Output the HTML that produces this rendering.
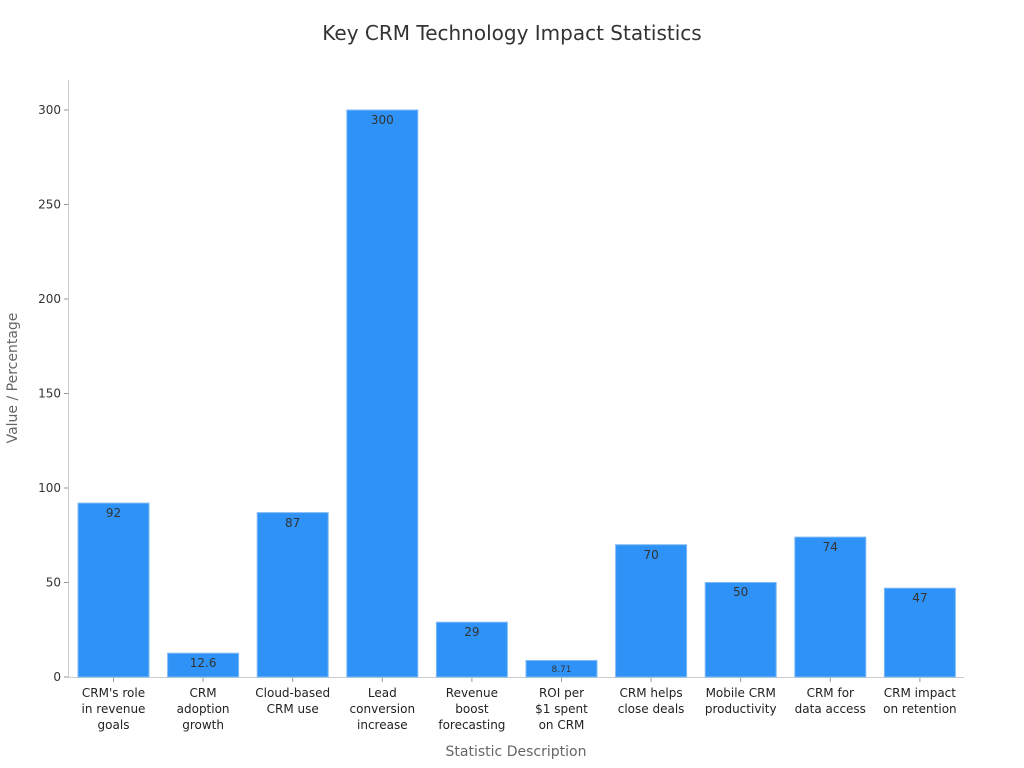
<!DOCTYPE html>
<html><head><meta charset="utf-8"><style>
html,body{margin:0;padding:0;background:#fff;}
svg{display:block;font-family:"DejaVu Sans","Liberation Sans",sans-serif;}
</style></head><body>
<svg width="1024" height="768" viewBox="0 0 1024 768" xmlns="http://www.w3.org/2000/svg">
<rect width="1024" height="768" fill="#fff"/>
<text x="512" y="40" text-anchor="middle" font-size="20" fill="#333">Key CRM Technology Impact Statistics</text>
<line x1="68.5" y1="80" x2="68.5" y2="677.5" stroke="#ccc" stroke-width="1"/>
<line x1="68.5" y1="677.5" x2="964" y2="677.5" stroke="#ccc" stroke-width="1"/>
<g font-size="12" fill="#333" text-anchor="end">
<line x1="64" x2="68.5" y1="677" y2="677" stroke="#999"/><text x="61" y="681">0</text>
<line x1="64" x2="68.5" y1="582.5" y2="582.5" stroke="#999"/><text x="61" y="586.5">50</text>
<line x1="64" x2="68.5" y1="488" y2="488" stroke="#999"/><text x="61" y="492">100</text>
<line x1="64" x2="68.5" y1="393.5" y2="393.5" stroke="#999"/><text x="61" y="397.5">150</text>
<line x1="64" x2="68.5" y1="299" y2="299" stroke="#999"/><text x="61" y="303">200</text>
<line x1="64" x2="68.5" y1="204.5" y2="204.5" stroke="#999"/><text x="61" y="208.5">250</text>
<line x1="64" x2="68.5" y1="110" y2="110" stroke="#999"/><text x="61" y="114">300</text>
</g>
<text transform="translate(17,378) rotate(-90)" text-anchor="middle" font-size="14" fill="#666">Value / Percentage</text>
<text x="516" y="756" text-anchor="middle" font-size="14" fill="#666">Statistic Description</text>
<g fill="#2f92f7" stroke="#7fbaf5" stroke-width="1">
<rect x="78" y="503.1" width="71" height="173.9"/>
<rect x="167.6" y="653.2" width="71" height="23.8"/>
<rect x="257.2" y="512.6" width="71" height="164.4"/>
<rect x="346.8" y="110" width="71" height="567"/>
<rect x="436.4" y="622.2" width="71" height="54.8"/>
<rect x="526" y="660.5" width="71" height="16.5"/>
<rect x="615.6" y="544.7" width="71" height="132.3"/>
<rect x="705.2" y="582.5" width="71" height="94.5"/>
<rect x="794.8" y="537.1" width="71" height="139.9"/>
<rect x="884.4" y="588.2" width="71" height="88.8"/>
</g>
<g font-size="12" fill="#333" text-anchor="middle">
<text x="113.5" y="517">92</text>
<text x="203.1" y="667">12.6</text>
<text x="292.7" y="527">87</text>
<text x="382.3" y="124">300</text>
<text x="471.9" y="636">29</text>
<text x="561.5" y="672" font-size="9">8.71</text>
<text x="651.1" y="559">70</text>
<text x="740.7" y="596">50</text>
<text x="830.3" y="551">74</text>
<text x="919.9" y="602">47</text>
</g>
<g stroke="#999">
<line x1="113.5" x2="113.5" y1="678" y2="682"/><line x1="203.1" x2="203.1" y1="678" y2="682"/>
<line x1="292.7" x2="292.7" y1="678" y2="682"/><line x1="382.3" x2="382.3" y1="678" y2="682"/>
<line x1="471.9" x2="471.9" y1="678" y2="682"/><line x1="561.5" x2="561.5" y1="678" y2="682"/>
<line x1="651.1" x2="651.1" y1="678" y2="682"/><line x1="740.7" x2="740.7" y1="678" y2="682"/>
<line x1="830.3" x2="830.3" y1="678" y2="682"/><line x1="919.9" x2="919.9" y1="678" y2="682"/>
</g>
<g font-size="12" fill="#222" text-anchor="middle">
<text x="113.5" y="697">CRM's role</text><text x="113.5" y="713">in revenue</text><text x="113.5" y="729">goals</text>
<text x="203.1" y="697">CRM</text><text x="203.1" y="713">adoption</text><text x="203.1" y="729">growth</text>
<text x="292.7" y="697">Cloud-based</text><text x="292.7" y="713">CRM use</text>
<text x="382.3" y="697">Lead</text><text x="382.3" y="713">conversion</text><text x="382.3" y="729">increase</text>
<text x="471.9" y="697">Revenue</text><text x="471.9" y="713">boost</text><text x="471.9" y="729">forecasting</text>
<text x="561.5" y="697">ROI per</text><text x="561.5" y="713">$1 spent</text><text x="561.5" y="729">on CRM</text>
<text x="651.1" y="697">CRM helps</text><text x="651.1" y="713">close deals</text>
<text x="740.7" y="697">Mobile CRM</text><text x="740.7" y="713">productivity</text>
<text x="830.3" y="697">CRM for</text><text x="830.3" y="713">data access</text>
<text x="919.9" y="697">CRM impact</text><text x="919.9" y="713">on retention</text>
</g>
</svg>
</body></html>
